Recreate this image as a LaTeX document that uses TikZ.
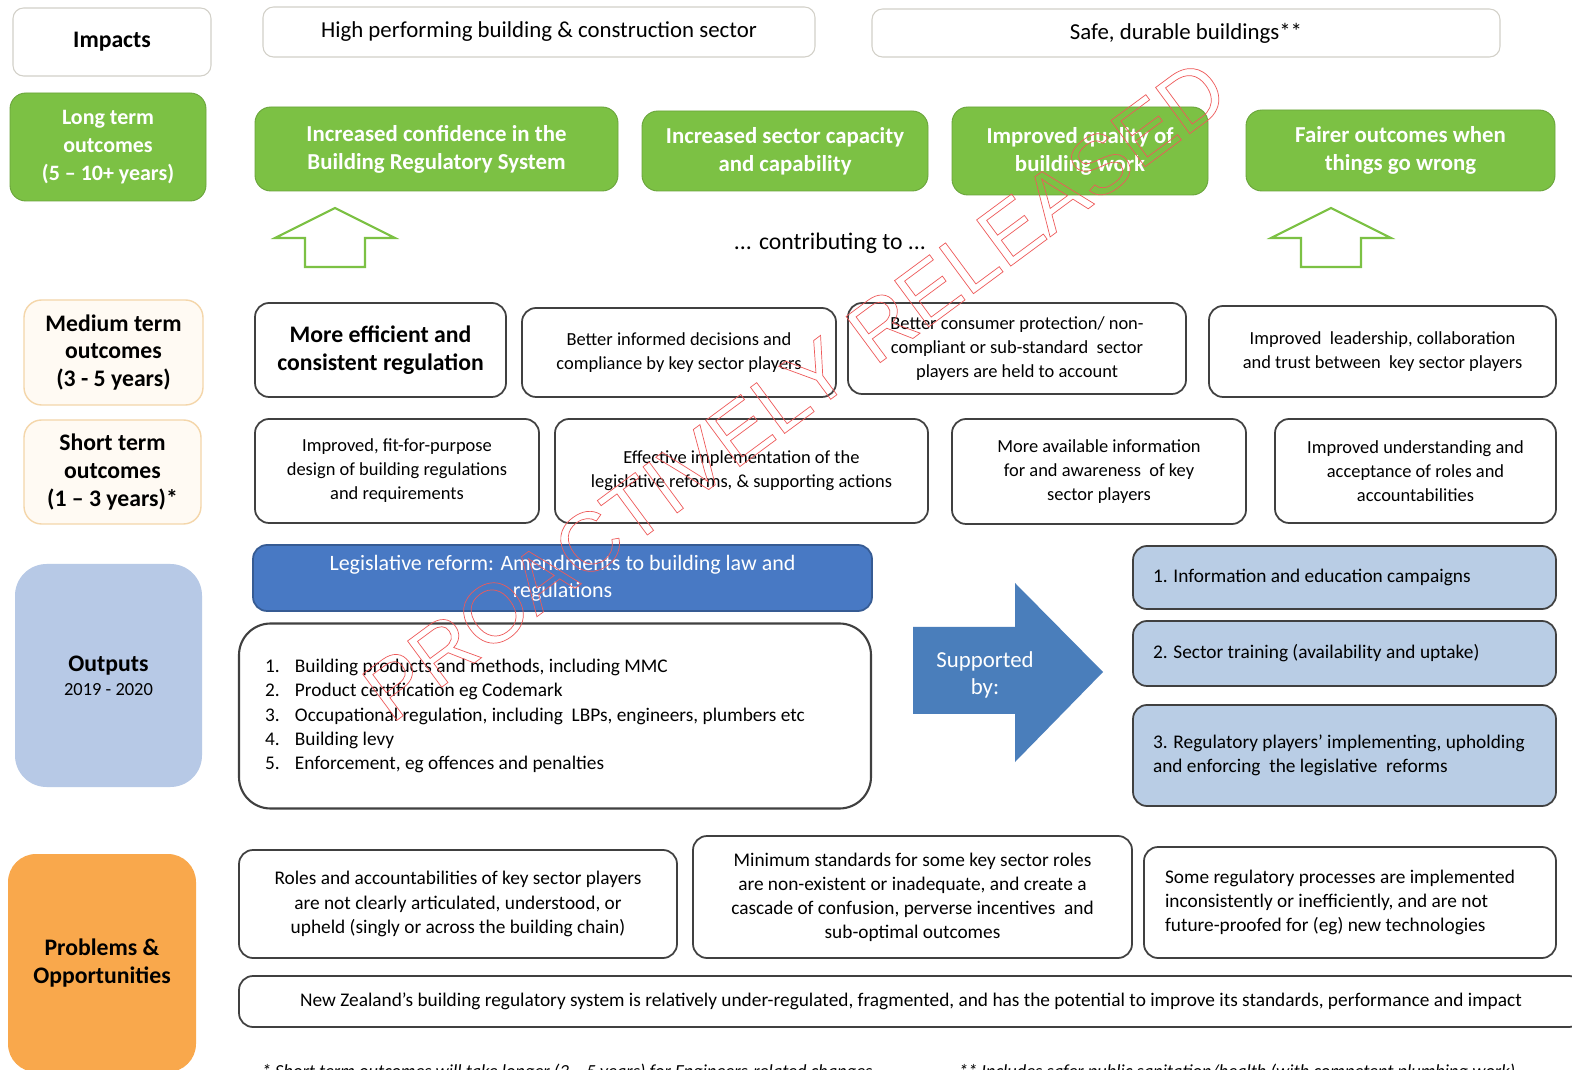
\documentclass[tikz,border=0pt]{standalone}
\usepackage{fontspec}
\setmainfont{Carlito}
\newfontfamily\wmfont{Liberation Sans}
\definecolor{ltgreen}{RGB}{124,193,68}
\definecolor{cream}{RGB}{255,250,243}
\definecolor{creamline}{RGB}{244,214,170}
\definecolor{outblue}{RGB}{183,201,230}
\definecolor{legblue}{RGB}{72,121,196}
\definecolor{arrblue}{RGB}{74,126,187}
\definecolor{supblue}{RGB}{185,205,229}
\definecolor{probor}{RGB}{249,168,76}
\definecolor{wmred}{RGB}{238,90,90}
\definecolor{paleline}{RGB}{210,208,200}
\definecolor{boxline}{RGB}{64,64,64}
\newcommand\px{0.02cm}
\newcommand\itm[1]{\makebox[0.6cm][l]{#1}}

\begin{document}
\begin{tikzpicture}[x=0.02cm,y=-0.02cm,
  every node/.style={align=center,inner sep=2pt},
  sz/.style 2 args={minimum width=#1*\px,minimum height=#2*\px},
  txt/.style={font=\fontsize{10.5}{13.7}\selectfont},
  head/.style={font=\fontsize{13.5}{15.9}\selectfont\bfseries},
  box/.style={draw=boxline,line width=1pt,fill=white,rounded corners=8pt,txt},
  toprow/.style={draw=paleline,line width=0.6pt,fill=white,rounded corners=6pt,font=\fontsize{13}{15}\selectfont},
  gbox/.style={draw=ltgreen!85!black,line width=0.5pt,fill=ltgreen,rounded corners=9pt,text=white,font=\fontsize{13}{15.9}\selectfont\bfseries},
  tlbl/.style={draw=creamline,line width=0.8pt,fill=cream,rounded corners=10pt,head},
  sbox/.style={draw=boxline,line width=1pt,fill=supblue,rounded corners=8pt,align=flush left,text width=383*\px,font=\fontsize{11}{13.7}\selectfont},
  uparrow/.style={draw=ltgreen,line width=1.2pt,fill=white}]
\fill[white] (0,0) rectangle (1572,1070);
\useasboundingbox (0,0) rectangle (1572,1070);

\node[toprow, sz={198}{68}, head, draw=paleline] (imp) at (112,42) {Impacts};
\node[toprow, sz={552}{50}] (imp1) at (539,32) {High performing building \& construction sector};
\node[toprow, sz={628}{48}] (imp2) at (1186,33) {Safe, durable buildings**};

\node[gbox, sz={196}{108}, font=\fontsize{12.5}{15.9}\selectfont\bfseries] (lt) at (108,147) {Long term\\outcomes\\(5 – 10+ years)};
\node[gbox, sz={363}{84}] (lt1) at (436.5,149) {Increased confidence in the\\Building Regulatory System};
\node[gbox, sz={286}{80}] (lt2) at (785,151) {Increased sector capacity\\and capability};
\node[gbox, sz={256}{88}] (lt3) at (1080,151) {Improved quality of\\building work};
\node[gbox, sz={309}{81}] (lt4) at (1400.5,150.5) {Fairer outcomes when\\things go wrong};

\foreach \c in {335,1331}
  \draw[uparrow] ({\c-30},267) -- ({\c-30},238) -- ({\c-60},238) -- (\c,208) -- ({\c+60},238) -- ({\c+30},238) -- ({\c+30},267) -- cycle;
\node[font=\fontsize{13.5}{16}\selectfont] (contrib) at (830,243) {... contributing to ...};

\node[tlbl, sz={179}{105}] (mt) at (113.5,352.5) {Medium term\\outcomes\\(3 - 5 years)};
\node[box, sz={251}{94}, head] (mt1) at (380.5,350) {More efficient and\\consistent regulation};
\node[box, sz={314}{89}] (mt2) at (679,352.5) {Better informed decisions and\\compliance by key sector players};
\node[box, sz={338}{91}] (mt3) at (1017,348.5) {Better consumer protection/ non-\\compliant or sub-standard\ \ sector\\players are held to account};
\node[box, sz={347}{91}] (mt4) at (1382.5,351.5) {Improved\ \ leadership, collaboration\\and trust between\ \ key sector players};

\node[tlbl, sz={177}{104}] (st) at (112.5,472) {Short term\\outcomes\\(1 – 3 years)*};
\node[box, sz={284}{104}] (st1) at (397,471) {Improved, fit-for-purpose\\design of building regulations\\and requirements};
\node[box, sz={373}{104}] (st2) at (741.5,471) {Effective implementation of the\\legislative reforms, \& supporting actions};
\node[box, sz={294}{105}] (st3) at (1099,471.5) {More available information\\for and awareness\ \ of key\\sector players};
\node[box, sz={281}{104}] (st4) at (1415.5,471) {Improved understanding and\\acceptance of roles and\\accountabilities};

\node[fill=outblue, rounded corners=18pt, sz={187}{223}, txt] (out) at (108.5,675.5) {{\fontsize{13.5}{15.9}\selectfont\bfseries Outputs}\\2019 - 2020};
\node[fill=legblue, draw=legblue!75!black, line width=1pt, rounded corners=8pt, sz={619}{66}, text=white, font=\fontsize{12.5}{15.9}\selectfont] (leg) at (562.5,578) {\rule{0pt}{9pt}Legislative reform: Amendments to building law and\\regulations};
\node[box, rounded corners=18pt, line width=1.2pt, sz={632}{185}, align=flush left, text width=580*\px, font=\fontsize{11}{13.7}\selectfont] (lst) at (555,716) {\itm{1.}Building products and methods, including MMC\\\itm{2.}Product certification eg Codemark\\\itm{3.}Occupational regulation, including\ \ LBPs, engineers, plumbers etc\\\itm{4.}Building levy\\\itm{5.}Enforcement, eg offences and penalties};

\fill[arrblue] (913,627) -- (1015,627) -- (1015,583) -- (1103,672) -- (1015,762) -- (1015,714) -- (913,714) -- cycle;
\node[text=white, font=\fontsize{13}{15.4}\selectfont] (sup) at (985,675) {Supported\\by:};
\node[sbox, sz={423}{63}] (sb1) at (1344.5,577.5) {1. Information and education campaigns};
\node[sbox, sz={423}{65}] (sb2) at (1344.5,653.5) {2. Sector training (availability and uptake)};
\node[sbox, sz={423}{101}] (sb3) at (1344.5,755.5) {3. Regulatory players' implementing, upholding\\and enforcing\ \ the legislative\ \ reforms};

\node[fill=probor, rounded corners=16pt, sz={188}{218}, head] (pb) at (102,963) {Problems \&\\Opportunities};
\node[box, sz={438}{108}, font=\fontsize{11}{13.7}\selectfont] (pb1) at (458,904) {Roles and accountabilities of key sector players\\are not clearly articulated, understood, or\\upheld (singly or across the building chain)};
\node[box, sz={439}{122}, font=\fontsize{11}{13.7}\selectfont] (pb2) at (912.5,897) {Minimum standards for some key sector roles\\are non-existent or inadequate, and create a\\cascade of confusion, perverse incentives\ \ and\\sub-optimal outcomes};
\node[box, sz={412}{111}, align=flush left, text width=370*\px, font=\fontsize{11}{13.7}\selectfont] (pb3) at (1350,902.5) {Some regulatory processes are implemented\\inconsistently or inefficiently, and are not\\future-proofed for (eg) new technologies};
\node[box, sz={1344}{51}, font=\fontsize{11}{13.7}\selectfont] (pb4) at (911,1001.5) {New Zealand’s building regulatory system is relatively under-regulated, fragmented, and has the potential to improve its standards, performance and impact};

\node[anchor=north west, font=\fontsize{10.5}{12}\selectfont\itshape] (fn1) at (258,1060) {* Short term outcomes will take longer (3 – 5 years) for Engineers-related changes};
\node[anchor=north west, font=\fontsize{10.5}{12}\selectfont\itshape] (fn2) at (955,1060) {** Includes safer public sanitation/health (with competent plumbing work)};

\node[rotate=36.5, text=wmred, font=\wmfont\fontsize{47.5}{47.5}\selectfont] (wm) at (795,390) {\special{pdf:literal direct 1 Tr 0.4 w}PROACTIVELY RELEASED\special{pdf:literal direct 0 Tr}};
\end{tikzpicture}
\end{document}
